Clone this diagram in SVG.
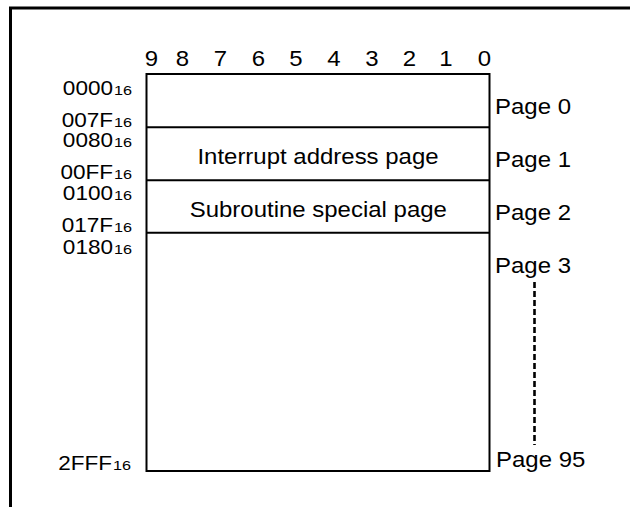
<svg xmlns="http://www.w3.org/2000/svg" width="630" height="507" viewBox="0 0 630 507">
<style>
text{font-family:"Liberation Sans",Arial,sans-serif;fill:#000}
.bit{font-size:22px;text-anchor:middle}
.addr{font-size:20.5px;text-anchor:end}
.sub{font-size:13.5px}
.pg{font-size:22px}
.lbl{font-size:22px;text-anchor:middle}
.box{fill:#fff;stroke:#000;stroke-width:2}
.div{stroke:#000;stroke-width:2}
</style>
<rect x="0" y="0" width="630" height="507" fill="#fff"/>
<path d="M10.5 507 V8 H630" fill="none" stroke="#000" stroke-width="3"/>
<g id="bits">
<text class="bit" transform="translate(151.3,66) scale(1.09,1)">9</text>
<text class="bit" transform="translate(182.5,66) scale(1.09,1)">8</text>
<text class="bit" transform="translate(220.5,66) scale(1.09,1)">7</text>
<text class="bit" transform="translate(258.3,66) scale(1.09,1)">6</text>
<text class="bit" transform="translate(296,66) scale(1.09,1)">5</text>
<text class="bit" transform="translate(334,66) scale(1.09,1)">4</text>
<text class="bit" transform="translate(372,66) scale(1.09,1)">3</text>
<text class="bit" transform="translate(409.5,66) scale(1.09,1)">2</text>
<text class="bit" transform="translate(446,66) scale(1.09,1)">1</text>
<text class="bit" transform="translate(484.5,66) scale(1.09,1)">0</text>
</g>
<g id="memory">
<rect class="box" x="146.5" y="74" width="343" height="397"/>
<line class="div" x1="146.5" y1="127.3" x2="489.5" y2="127.3"/>
<line class="div" x1="146.5" y1="180.3" x2="489.5" y2="180.3"/>
<line class="div" x1="146.5" y1="232.7" x2="489.5" y2="232.7"/>
</g>
<g id="page0">
<text class="addr" transform="translate(113,94.5) scale(1.1,1)">0000</text>
<text class="sub" transform="translate(114,94.5) scale(1.2,1)">16</text>
<text class="addr" transform="translate(113,126.5) scale(1.1,1)">007F</text>
<text class="sub" transform="translate(114,126.5) scale(1.2,1)">16</text>
<text class="pg" transform="translate(495,114) scale(1.09,1)">Page 0</text>
</g>
<g id="page1">
<text class="addr" transform="translate(113,147) scale(1.1,1)">0080</text>
<text class="sub" transform="translate(114,147) scale(1.2,1)">16</text>
<text class="addr" transform="translate(113,179) scale(1.1,1)">00FF</text>
<text class="sub" transform="translate(114,179) scale(1.2,1)">16</text>
<text class="lbl" transform="translate(318,163.5) scale(1.09,1)">Interrupt address page</text>
<text class="pg" transform="translate(495,167) scale(1.09,1)">Page 1</text>
</g>
<g id="page2">
<text class="addr" transform="translate(113,200) scale(1.1,1)">0100</text>
<text class="sub" transform="translate(114,200) scale(1.2,1)">16</text>
<text class="addr" transform="translate(113,232) scale(1.1,1)">017F</text>
<text class="sub" transform="translate(114,232) scale(1.2,1)">16</text>
<text class="lbl" transform="translate(318.3,216.5) scale(1.09,1)">Subroutine special page</text>
<text class="pg" transform="translate(495,220) scale(1.09,1)">Page 2</text>
</g>
<g id="page3">
<text class="addr" transform="translate(113,254) scale(1.1,1)">0180</text>
<text class="sub" transform="translate(114,254) scale(1.2,1)">16</text>
<text class="pg" transform="translate(495,273) scale(1.09,1)">Page 3</text>
</g>
<g id="page95">
<text class="addr" transform="translate(112,470) scale(1.1,1)">2FFF</text>
<text class="sub" transform="translate(113,470) scale(1.2,1)">16</text>
<text class="pg" transform="translate(496,467) scale(1.09,1)">Page 95</text>
</g>
<g id="connectors">
<line x1="534.5" y1="282" x2="534.5" y2="445" stroke="#000" stroke-width="2.6" stroke-dasharray="6 3"/>
</g>
</svg>
